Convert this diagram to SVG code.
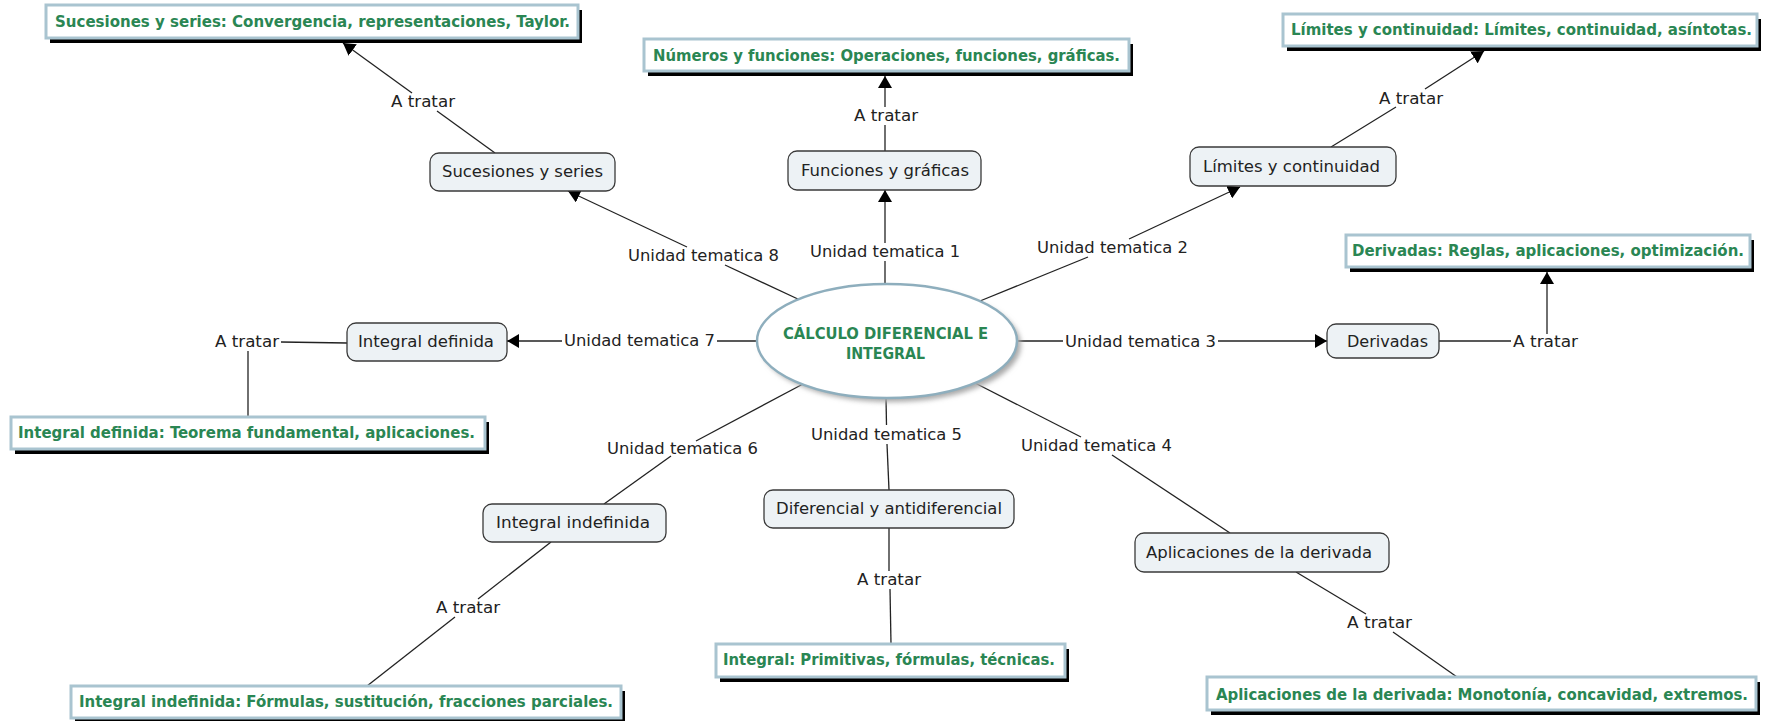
<svg xmlns="http://www.w3.org/2000/svg" width="1771" height="721" viewBox="0 0 1771 721">
<defs>
<marker id="arr" markerUnits="userSpaceOnUse" markerWidth="14" markerHeight="14" refX="12" refY="7" orient="auto">
<path d="M0,0 L12,7 L0,14 z" fill="#000"/>
</marker>
<filter id="esh" x="-20%" y="-20%" width="140%" height="150%">
<feGaussianBlur stdDeviation="2.5"/>
</filter>
<style>
.ln{stroke:#222;stroke-width:1.3;fill:none}
.la{stroke:#222;stroke-width:1.3;fill:none;marker-end:url(#arr)}
.nd{fill:#edf2f5;stroke:#3a3a3a;stroke-width:1.3}
.sh{fill:#000}
.gb{fill:#fff;stroke:#a9c4d0;stroke-width:3}
.t{font-family:'DejaVu Sans',Verdana,sans-serif;font-size:16px;fill:#222}
.g{font-family:'DejaVu Sans Condensed','DejaVu Sans',sans-serif;font-stretch:condensed;font-size:16px;font-weight:bold;fill:#2a8653}
</style>
</defs>
<rect width="1771" height="721" fill="#fff"/>

<g id="connectors">
<line class="ln" x1="800" y1="300" x2="725" y2="265"/>
<line class="la" x1="687" y1="247" x2="568" y2="191"/>
<text class="t" x="628" y="261" textLength="151" lengthAdjust="spacingAndGlyphs">Unidad tematica 8</text>
<line class="ln" x1="495" y1="153" x2="437" y2="111"/>
<line class="la" x1="412" y1="93" x2="343" y2="43"/>
<text class="t" x="391" y="107" textLength="64" lengthAdjust="spacingAndGlyphs">A tratar</text>
<line class="ln" x1="885" y1="284" x2="885" y2="261"/>
<line class="la" x1="885" y1="243" x2="885" y2="190"/>
<text class="t" x="810" y="257" textLength="150" lengthAdjust="spacingAndGlyphs">Unidad tematica 1</text>
<line class="ln" x1="885" y1="151" x2="885" y2="125"/>
<line class="la" x1="885" y1="107" x2="885" y2="76"/>
<text class="t" x="854" y="121" textLength="64" lengthAdjust="spacingAndGlyphs">A tratar</text>
<line class="ln" x1="980" y1="301" x2="1088" y2="257"/>
<line class="la" x1="1129" y1="239" x2="1240" y2="187"/>
<text class="t" x="1037" y="253" textLength="151" lengthAdjust="spacingAndGlyphs">Unidad tematica 2</text>
<line class="ln" x1="1331" y1="147" x2="1396" y2="107"/>
<line class="la" x1="1425" y1="89" x2="1484" y2="51"/>
<text class="t" x="1379" y="104" textLength="64" lengthAdjust="spacingAndGlyphs">A tratar</text>
<line class="ln" x1="757" y1="341" x2="717" y2="341"/>
<line class="la" x1="562" y1="341" x2="507" y2="341"/>
<text class="t" x="564" y="346" textLength="151" lengthAdjust="spacingAndGlyphs">Unidad tematica 7</text>
<line class="ln" x1="347" y1="343" x2="281" y2="342"/>
<line class="ln" x1="248" y1="351" x2="248" y2="417"/>
<text class="t" x="215" y="347" textLength="64" lengthAdjust="spacingAndGlyphs">A tratar</text>
<line class="ln" x1="1017" y1="341" x2="1063" y2="341"/>
<line class="la" x1="1218" y1="341" x2="1327" y2="341"/>
<text class="t" x="1065" y="347" textLength="151" lengthAdjust="spacingAndGlyphs">Unidad tematica 3</text>
<line class="ln" x1="1439" y1="341" x2="1511" y2="341"/>
<line class="la" x1="1547" y1="334" x2="1547" y2="272"/>
<text class="t" x="1513" y="347" textLength="65" lengthAdjust="spacingAndGlyphs">A tratar</text>
<line class="ln" x1="886" y1="398" x2="886.5" y2="425"/>
<line class="ln" x1="887" y1="444" x2="889" y2="490"/>
<text class="t" x="811" y="440" textLength="151" lengthAdjust="spacingAndGlyphs">Unidad tematica 5</text>
<line class="ln" x1="889" y1="528" x2="889" y2="571"/>
<line class="ln" x1="890" y1="589" x2="891" y2="644"/>
<text class="t" x="857" y="585" textLength="64" lengthAdjust="spacingAndGlyphs">A tratar</text>
<line class="ln" x1="803" y1="384" x2="696" y2="441"/>
<line class="ln" x1="671" y1="456" x2="604" y2="504"/>
<text class="t" x="607" y="454" textLength="151" lengthAdjust="spacingAndGlyphs">Unidad tematica 6</text>
<line class="ln" x1="551" y1="542" x2="478" y2="599"/>
<line class="ln" x1="455" y1="617" x2="367" y2="686"/>
<text class="t" x="436" y="613" textLength="64" lengthAdjust="spacingAndGlyphs">A tratar</text>
<line class="ln" x1="975" y1="383" x2="1081" y2="437"/>
<line class="ln" x1="1112" y1="455" x2="1230" y2="533"/>
<text class="t" x="1021" y="451" textLength="151" lengthAdjust="spacingAndGlyphs">Unidad tematica 4</text>
<line class="ln" x1="1296" y1="572" x2="1366" y2="614"/>
<line class="ln" x1="1393" y1="632" x2="1457" y2="677"/>
<text class="t" x="1347" y="628" textLength="65" lengthAdjust="spacingAndGlyphs">A tratar</text>
</g>

<g id="center">
<ellipse cx="891" cy="345" rx="130" ry="57" fill="#aaa" filter="url(#esh)"/>
<ellipse cx="887" cy="341" rx="130" ry="57" fill="#fff" stroke="#8eaebd" stroke-width="2.5"/>
<text class="g" x="783" y="339" textLength="205" lengthAdjust="spacingAndGlyphs">CÁLCULO DIFERENCIAL E</text>
<text class="g" x="846" y="359" textLength="79" lengthAdjust="spacingAndGlyphs">INTEGRAL</text>
</g>

<g id="n-suc">
<rect class="nd" x="430" y="153" width="185" height="38" rx="9"/>
<text class="t" x="442" y="177" textLength="161" lengthAdjust="spacingAndGlyphs">Sucesiones y series</text>
</g>
<g id="n-fun">
<rect class="nd" x="788" y="151" width="193" height="39" rx="9"/>
<text class="t" x="801" y="176" textLength="168" lengthAdjust="spacingAndGlyphs">Funciones y gráficas</text>
</g>
<g id="n-lim">
<rect class="nd" x="1190" y="147" width="206" height="39" rx="9"/>
<text class="t" x="1203" y="172" textLength="177" lengthAdjust="spacingAndGlyphs">Límites y continuidad</text>
</g>
<g id="n-intdef">
<rect class="nd" x="347" y="323" width="160" height="38" rx="9"/>
<text class="t" x="358" y="347" textLength="136" lengthAdjust="spacingAndGlyphs">Integral definida</text>
</g>
<g id="n-deriv">
<rect class="nd" x="1327" y="324" width="112" height="34" rx="9"/>
<text class="t" x="1347" y="347" textLength="81" lengthAdjust="spacingAndGlyphs">Derivadas</text>
</g>
<g id="n-difer">
<rect class="nd" x="764" y="490" width="250" height="38" rx="9"/>
<text class="t" x="776" y="514" textLength="226" lengthAdjust="spacingAndGlyphs">Diferencial y antidiferencial</text>
</g>
<g id="n-intindef">
<rect class="nd" x="483" y="504" width="183" height="38" rx="9"/>
<text class="t" x="496" y="528" textLength="154" lengthAdjust="spacingAndGlyphs">Integral indefinida</text>
</g>
<g id="n-aplic">
<rect class="nd" x="1135" y="533" width="254" height="39" rx="9"/>
<text class="t" x="1146" y="558" textLength="226" lengthAdjust="spacingAndGlyphs">Aplicaciones de la derivada</text>
</g>

<g id="g-suc">
<rect class="sh" x="50" y="10" width="532" height="33"/>
<rect class="gb" x="46" y="5" width="532" height="33"/>
<text class="g" x="55" y="27" textLength="515" lengthAdjust="spacingAndGlyphs">Sucesiones y series: Convergencia, representaciones, Taylor.</text>
</g>
<g id="g-fun">
<rect class="sh" x="648" y="44" width="485" height="32"/>
<rect class="gb" x="644" y="39" width="485" height="32"/>
<text class="g" x="653" y="61" textLength="467" lengthAdjust="spacingAndGlyphs">Números y funciones: Operaciones, funciones, gráficas.</text>
</g>
<g id="g-lim">
<rect class="sh" x="1287" y="19" width="474" height="32"/>
<rect class="gb" x="1283" y="14" width="474" height="32"/>
<text class="g" x="1291" y="35" textLength="461" lengthAdjust="spacingAndGlyphs">Límites y continuidad: Límites, continuidad, asíntotas.</text>
</g>
<g id="g-deriv">
<rect class="sh" x="1350" y="240" width="404" height="32"/>
<rect class="gb" x="1346" y="235" width="404" height="32"/>
<text class="g" x="1352" y="256" textLength="392" lengthAdjust="spacingAndGlyphs">Derivadas: Reglas, aplicaciones, optimización.</text>
</g>
<g id="g-intdef">
<rect class="sh" x="15" y="422" width="474" height="32"/>
<rect class="gb" x="11" y="417" width="474" height="32"/>
<text class="g" x="18" y="438" textLength="457" lengthAdjust="spacingAndGlyphs">Integral definida: Teorema fundamental, aplicaciones.</text>
</g>
<g id="g-integral">
<rect class="sh" x="720" y="649" width="349" height="33"/>
<rect class="gb" x="716" y="644" width="349" height="33"/>
<text class="g" x="723" y="665" textLength="332" lengthAdjust="spacingAndGlyphs">Integral: Primitivas, fórmulas, técnicas.</text>
</g>
<g id="g-intindef">
<rect class="sh" x="75" y="691" width="550" height="32"/>
<rect class="gb" x="71" y="686" width="550" height="32"/>
<text class="g" x="79" y="707" textLength="534" lengthAdjust="spacingAndGlyphs">Integral indefinida: Fórmulas, sustitución, fracciones parciales.</text>
</g>
<g id="g-aplic">
<rect class="sh" x="1211" y="682" width="549" height="33"/>
<rect class="gb" x="1207" y="677" width="549" height="33"/>
<text class="g" x="1216" y="700" textLength="532" lengthAdjust="spacingAndGlyphs">Aplicaciones de la derivada: Monotonía, concavidad, extremos.</text>
</g>
</svg>
